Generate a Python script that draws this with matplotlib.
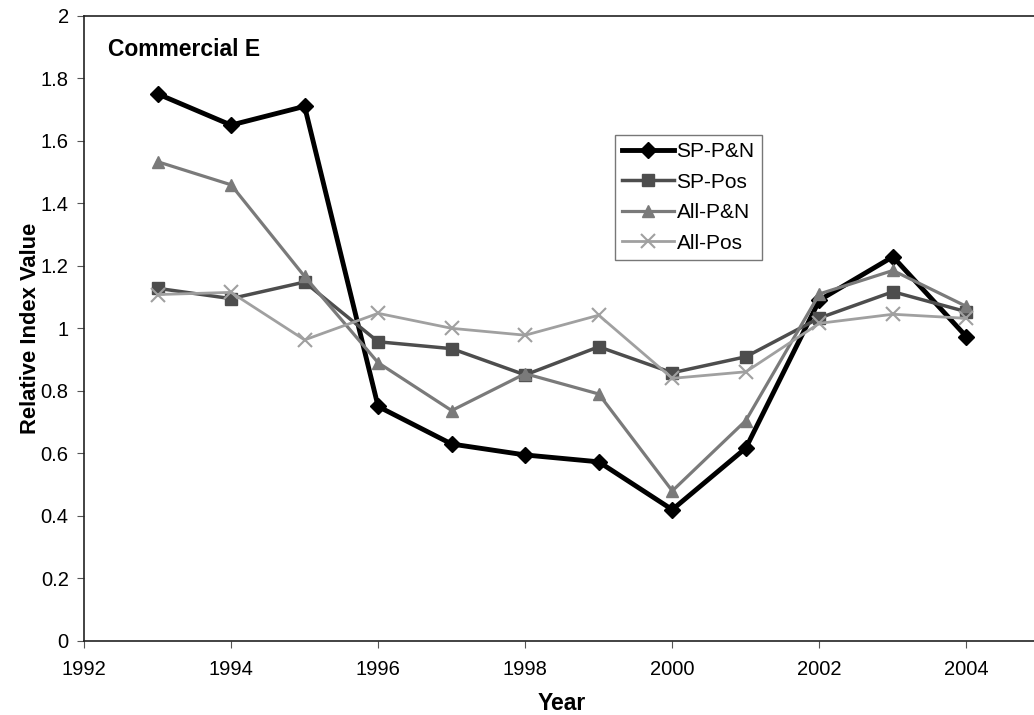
import matplotlib
matplotlib.use("Agg")
import matplotlib.pyplot as plt
from matplotlib.ticker import FuncFormatter

plt.rcParams["font.family"] = ["Liberation Sans", "DejaVu Sans"]

years = [1993, 1994, 1995, 1996, 1997, 1998, 1999, 2000, 2001, 2002, 2003, 2004]
sp_pn = [1.75, 1.65, 1.71, 0.75, 0.63, 0.595, 0.573, 0.42, 0.617, 1.09, 1.229, 0.973]
sp_pos = [1.128, 1.095, 1.148, 0.957, 0.935, 0.851, 0.941, 0.858, 0.909, 1.033, 1.117, 1.053]
all_pn = [1.533, 1.459, 1.166, 0.89, 0.737, 0.855, 0.79, 0.48, 0.705, 1.11, 1.185, 1.07]
all_pos = [1.108, 1.115, 0.963, 1.048, 1.0, 0.978, 1.042, 0.84, 0.861, 1.016, 1.045, 1.032]

series = [
    ("SP-P&N", sp_pn, "#000000", "D", 3.5, 8),
    ("SP-Pos", sp_pos, "#4d4d4d", "s", 2.5, 9),
    ("All-P&N", all_pn, "#7a7a7a", "^", 2.3, 9),
    ("All-Pos", all_pos, "#a0a0a0", "x", 2.0, 10),
]

fig = plt.figure(figsize=(10.34, 7.15), dpi=100)
ax = fig.add_axes([0.0812, 0.1035, 0.9246, 0.8746])

for name, vals, color, marker, lw, ms in series:
    ax.plot(years, vals, color=color, marker=marker, linewidth=lw,
            markersize=ms, markeredgewidth=1.5 if marker == "x" else 1.0,
            markeredgecolor=color, label=name)

ax.set_xlim(1992, 2005)
ax.set_ylim(0, 2)
ax.set_xticks(range(1992, 2005, 2))
ax.set_yticks([i * 0.2 for i in range(11)])
ax.yaxis.set_major_formatter(FuncFormatter(lambda v, p: "%g" % round(v, 1)))

# dotted frame like the original, no right spine
for side in ["left", "bottom", "top"]:
    ax.spines[side].set_linestyle((0, (1, 1)))
    ax.spines[side].set_linewidth(1.2)
    ax.spines[side].set_color("#222222")
ax.spines["right"].set_visible(False)

ax.tick_params(axis="both", direction="out", length=5, width=0.8,
               color="#555555", labelsize=14.5)
ax.tick_params(axis="y", pad=6)
ax.tick_params(axis="x", pad=9)

ax.set_xlabel("Year", fontsize=16.5, fontweight="bold", labelpad=9)
ax.set_ylabel("Relative Index Value", fontsize=15.8, fontweight="bold", labelpad=0)

ax.text(0.025, 0.965, "Commercial E", transform=ax.transAxes, fontsize=16.5,
        fontweight="bold", va="top", ha="left")

leg = ax.legend(loc="upper left", bbox_to_anchor=(615 / 1034, 1 - 135 / 715),
                bbox_transform=fig.transFigure, fontsize=15, frameon=True,
                fancybox=False, edgecolor="#555555", handlelength=2.5,
                handletextpad=0.1, borderpad=0.35, labelspacing=0.55,
                borderaxespad=0)
leg.get_frame().set_linewidth(1.0)

fig.savefig("out.png", dpi=100)
